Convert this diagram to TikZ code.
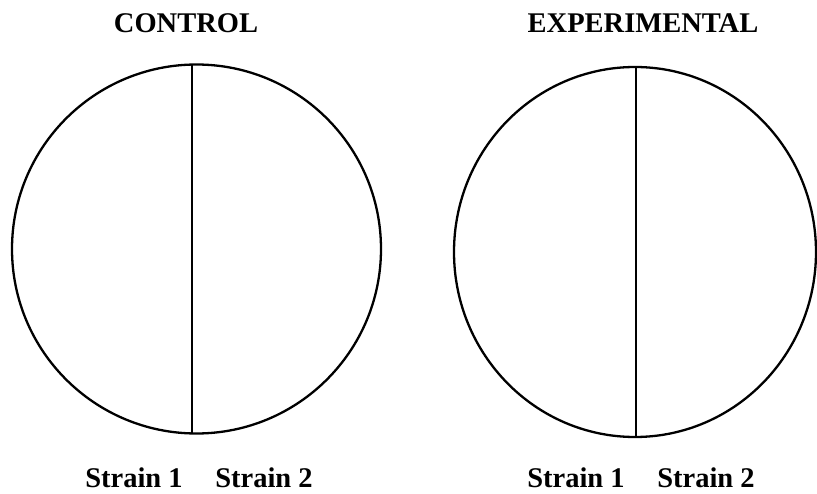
\documentclass[tikz,border=0pt]{standalone}
\usepackage{fontspec}
\setmainfont{Liberation Serif}
\usetikzlibrary{shapes.geometric}
\begin{document}
\begin{tikzpicture}[x=1pt,y=-1pt,
  dish/.style={draw=black,line width=2.3pt,ellipse,inner sep=0pt},
  divider/.style={draw=black,line width=2.3pt},
  lbl/.style={anchor=base,inner sep=0pt,font=\fontsize{28.5}{32}\selectfont\bfseries}]
\useasboundingbox (0,0) rectangle (817,494);
\node[dish,minimum width=369pt,minimum height=369pt] (c1) at (196.5,249) {};
\node[dish,minimum width=362pt,minimum height=370pt] (c2) at (635,252) {};
\coordinate (t1) at (192,64.5);
\coordinate (b1) at (192,433);
\coordinate (t2) at (636,67);
\coordinate (b2) at (636,437);
\draw[divider] (t1) -- (b1);
\draw[divider] (t2) -- (b2);
\node[lbl] (h1) at (186,33) {CONTROL};
\node[lbl] (h2) at (643,33) {EXPERIMENTAL};
\node[lbl] (s11) at (134,487) {Strain 1};
\node[lbl] (s12) at (264,487) {Strain 2};
\node[lbl] (s21) at (576,487) {Strain 1};
\node[lbl] (s22) at (706,487) {Strain 2};
\end{tikzpicture}
\end{document}
